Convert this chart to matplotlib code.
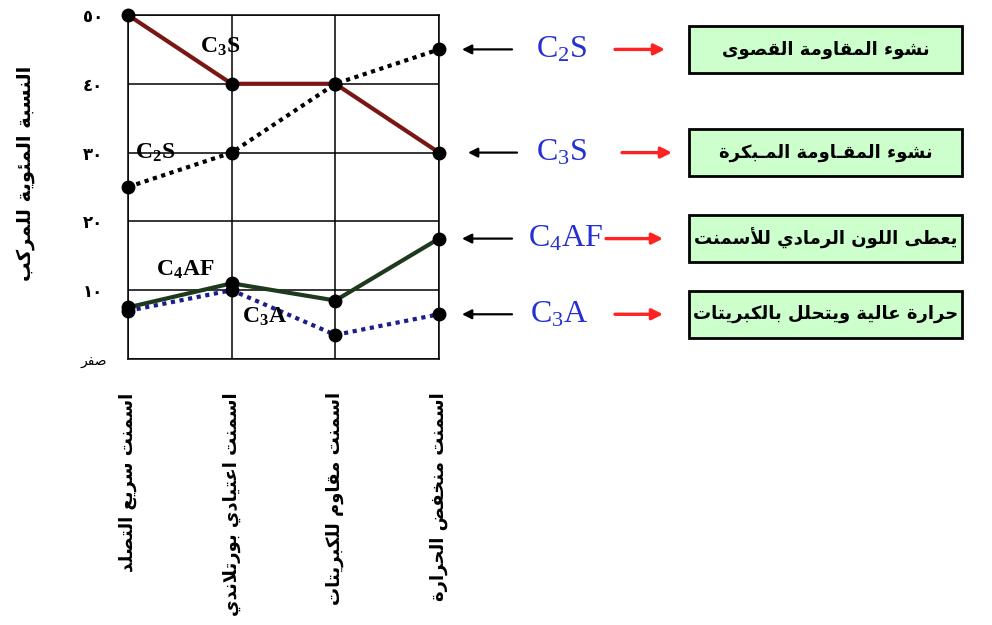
import matplotlib
matplotlib.use('Agg')
import matplotlib.pyplot as plt
import matplotlib.transforms as mtransforms
from matplotlib.patches import Rectangle

# ---------------- data ----------------
categories = ["اسمنت سريع التصلد", "اسمنت اعتيادي بورتلاندي",
              "اسمنت مقاوم للكبريتات", "اسمنت منخفض الحرارة"]
c3s = [50, 40, 40, 30]
c2s = [25, 30, 40, 45]
c4af = [7.5, 11, 8.5, 17.5]
c3a = [7, 10, 3.5, 6.5]
ytick_values = [0, 10, 20, 30, 40, 50]
ytick_labels = ["صفر", "١٠", "٢٠", "٣٠", "٤٠", "٥٠"]
y_label = "النسبة المئوية للمركب"
series_names = [r"C$_\mathbf{3}$S", r"C$_\mathbf{2}$S", r"C$_\mathbf{4}$AF", r"C$_\mathbf{3}$A"]
box_names = [r"C$_2$S", r"C$_3$S", r"C$_4$AF", r"C$_3$A"]
box_texts = ["نشوء المقاومة القصوى", "نشوء المقـاومة المـبكرة",
             "يعطى اللون الرمادي للأسمنت", "حرارة عالية ويتحلل بالكبريتات"]

# ---------------- Arabic shaping (presentation forms + RTL) ----------------
FORMS = {'ء': (0xFE80, 1), 'آ': (0xFE81, 2), 'أ': (0xFE83, 2), 'ؤ': (0xFE85, 2),
         'إ': (0xFE87, 2), 'ئ': (0xFE89, 4), 'ا': (0xFE8D, 2), 'ب': (0xFE8F, 4),
         'ة': (0xFE93, 2), 'ت': (0xFE95, 4), 'ث': (0xFE99, 4), 'ج': (0xFE9D, 4),
         'ح': (0xFEA1, 4), 'خ': (0xFEA5, 4), 'د': (0xFEA9, 2), 'ذ': (0xFEAB, 2),
         'ر': (0xFEAD, 2), 'ز': (0xFEAF, 2), 'س': (0xFEB1, 4), 'ش': (0xFEB5, 4),
         'ص': (0xFEB9, 4), 'ض': (0xFEBD, 4), 'ط': (0xFEC1, 4), 'ظ': (0xFEC5, 4),
         'ع': (0xFEC9, 4), 'غ': (0xFECD, 4), 'ف': (0xFED1, 4), 'ق': (0xFED5, 4),
         'ك': (0xFED9, 4), 'ل': (0xFEDD, 4), 'م': (0xFEE1, 4), 'ن': (0xFEE5, 4),
         'ه': (0xFEE9, 4), 'و': (0xFEED, 2), 'ى': (0xFEEF, 2), 'ي': (0xFEF1, 4)}
LAM_ALEF = {'آ': 0xFEF5, 'أ': 0xFEF7, 'إ': 0xFEF9, 'ا': 0xFEFB}
TATWEEL = 'ـ'


def shape(text):
    toks = []
    i = 0
    while i < len(text):
        ch = text[i]
        if ch == 'ل' and i + 1 < len(text) and text[i + 1] in LAM_ALEF:
            toks.append(('LA', text[i + 1]))
            i += 2
            continue
        toks.append(('C', ch))
        i += 1

    def jb(t):
        k, c = t
        if k == 'LA' or c == TATWEEL:
            return True
        return c in FORMS and FORMS[c][1] >= 2

    def jf(t):
        k, c = t
        if k == 'LA':
            return False
        if c == TATWEEL:
            return True
        return c in FORMS and FORMS[c][1] == 4

    out = []
    for i, t in enumerate(toks):
        prev = toks[i - 1] if i > 0 else None
        nxt = toks[i + 1] if i + 1 < len(toks) else None
        jp = prev is not None and jf(prev) and jb(t)
        jn = nxt is not None and jf(t) and jb(nxt)
        k, c = t
        if k == 'LA':
            out.append(chr(LAM_ALEF[c] + (1 if jp else 0)))
        elif c in FORMS:
            base, n = FORMS[c]
            if n == 1:
                out.append(chr(base))
            elif n == 2:
                out.append(chr(base + (1 if jp else 0)))
            else:
                off = 3 if (jp and jn) else (1 if jp else (2 if jn else 0))
                out.append(chr(base + off))
        else:
            out.append(c)
    return ''.join(reversed(out))


def is_arabic_letters(s):
    return any(c in FORMS for c in s)


plt.rcParams['font.family'] = ['DejaVu Sans']
plt.rcParams['mathtext.fontset'] = 'custom'
plt.rcParams['mathtext.rm'] = 'Liberation Serif'
plt.rcParams['mathtext.it'] = 'Liberation Serif:italic'
plt.rcParams['mathtext.bf'] = 'Liberation Serif:bold'

fig = plt.figure(figsize=(9.92, 6.25), dpi=100)
ax = fig.add_axes([128 / 992, 1 - 359 / 625, (439 - 128) / 992, (359 - 15) / 625])

x = list(range(len(categories)))
lw = 3.0
ms = 9
ax.plot(x, c3s, color='#7a1616', lw=lw, marker='o', ms=ms, mfc='black', mec='black',
        clip_on=False, zorder=5)
ax.plot(x, c2s, color='black', lw=lw, ls=(0, (1, 1.1)), dash_capstyle='butt', marker='o', ms=ms,
        mfc='black', mec='black', clip_on=False, zorder=4)
ax.plot(x, c4af, color='#1d3a1d', lw=lw, marker='o', ms=ms, mfc='black', mec='black',
        clip_on=False, zorder=5)
ax.plot(x, c3a, color='#1c1c8c', lw=lw, ls=(0, (1, 1.1)), dash_capstyle='butt', marker='o', ms=ms,
        mfc='black', mec='black', clip_on=False, zorder=4)

ax.set_xlim(0, 3)
ax.set_ylim(0, 50)
ax.grid(True, color='black', lw=1.1)
for sp in ax.spines.values():
    sp.set_linewidth(1.1)
ax.tick_params(length=0)
ax.set_xticks(x)
ax.set_xticklabels([shape(c) for c in categories], rotation=90, va='top', ha='center',
                   fontsize=13, fontweight='bold')
ax.tick_params(axis='x', pad=24)
ax.set_yticks(ytick_values)
ylabels = [shape(s) if is_arabic_letters(s) else s for s in ytick_labels]
ax.set_yticklabels(ylabels, fontsize=12, fontweight='bold')
for lab in ax.get_yticklabels():
    lab.set_horizontalalignment('center')
ax.get_yticklabels()[0].set_fontweight('normal')
ax.get_yticklabels()[0].set_fontsize(10)
ax.tick_params(axis='y', pad=25)

fig.text(26 / 992, 1 - 173 / 625, shape(y_label), rotation=90, ha='center', va='center',
         fontsize=14, fontweight='bold')

# in-chart labels
label_pos = [(0.89, 45.3), (0.26, 29.9), (0.55, 12.9), (1.32, 6.1)]
for name, (lx, ly) in zip(series_names, label_pos):
    ax.text(lx, ly, name, fontsize=17, fontweight='bold', family='Liberation Serif',
            ha='center', va='center', zorder=6)

# right side annotations
blend = mtransforms.blended_transform_factory(fig.transFigure, ax.transData)
row_vals = [c2s[-1], c3s[-1], c4af[-1], c3a[-1]]
F = lambda px: px / 992
text_x = [562, 562, 566, 559]
red_arrow = [(615, 665), (622, 672), (606, 663), (615, 663)]
blk_arrow = [(512, 462), (517, 468), (512, 462), (512, 462)]
for i, yv in enumerate(row_vals):
    bt, bh = blk_arrow[i]
    ax.annotate('', xy=(F(bh), yv), xytext=(F(bt), yv), xycoords=blend, textcoords=blend,
                arrowprops=dict(arrowstyle='-|>', color='black', lw=1.6, mutation_scale=14,
                                shrinkA=0, shrinkB=0), annotation_clip=False)
    rt, rh = red_arrow[i]
    ax.annotate('', xy=(F(rh), yv), xytext=(F(rt), yv), xycoords=blend, textcoords=blend,
                arrowprops=dict(arrowstyle='-|>', color='#ff2222', lw=2.4, mutation_scale=16,
                                shrinkA=0, shrinkB=0), annotation_clip=False)
    ax.text(F(text_x[i]), yv, box_names[i], transform=blend, ha='center', va='center',
            fontsize=23, color='#2530d0', family='Liberation Serif', clip_on=False)
    h = 6.8
    rect = Rectangle((F(689), yv - h / 2), F(962 - 689), h, transform=blend,
                     facecolor='#ccffcc', edgecolor='black', lw=2, clip_on=False)
    ax.add_patch(rect)
    ax.text(F((689 + 962) / 2), yv, shape(box_texts[i]), transform=blend, ha='center',
            va='center', fontsize=13, fontweight='bold', clip_on=False)

fig.savefig('out.png', dpi=100)
